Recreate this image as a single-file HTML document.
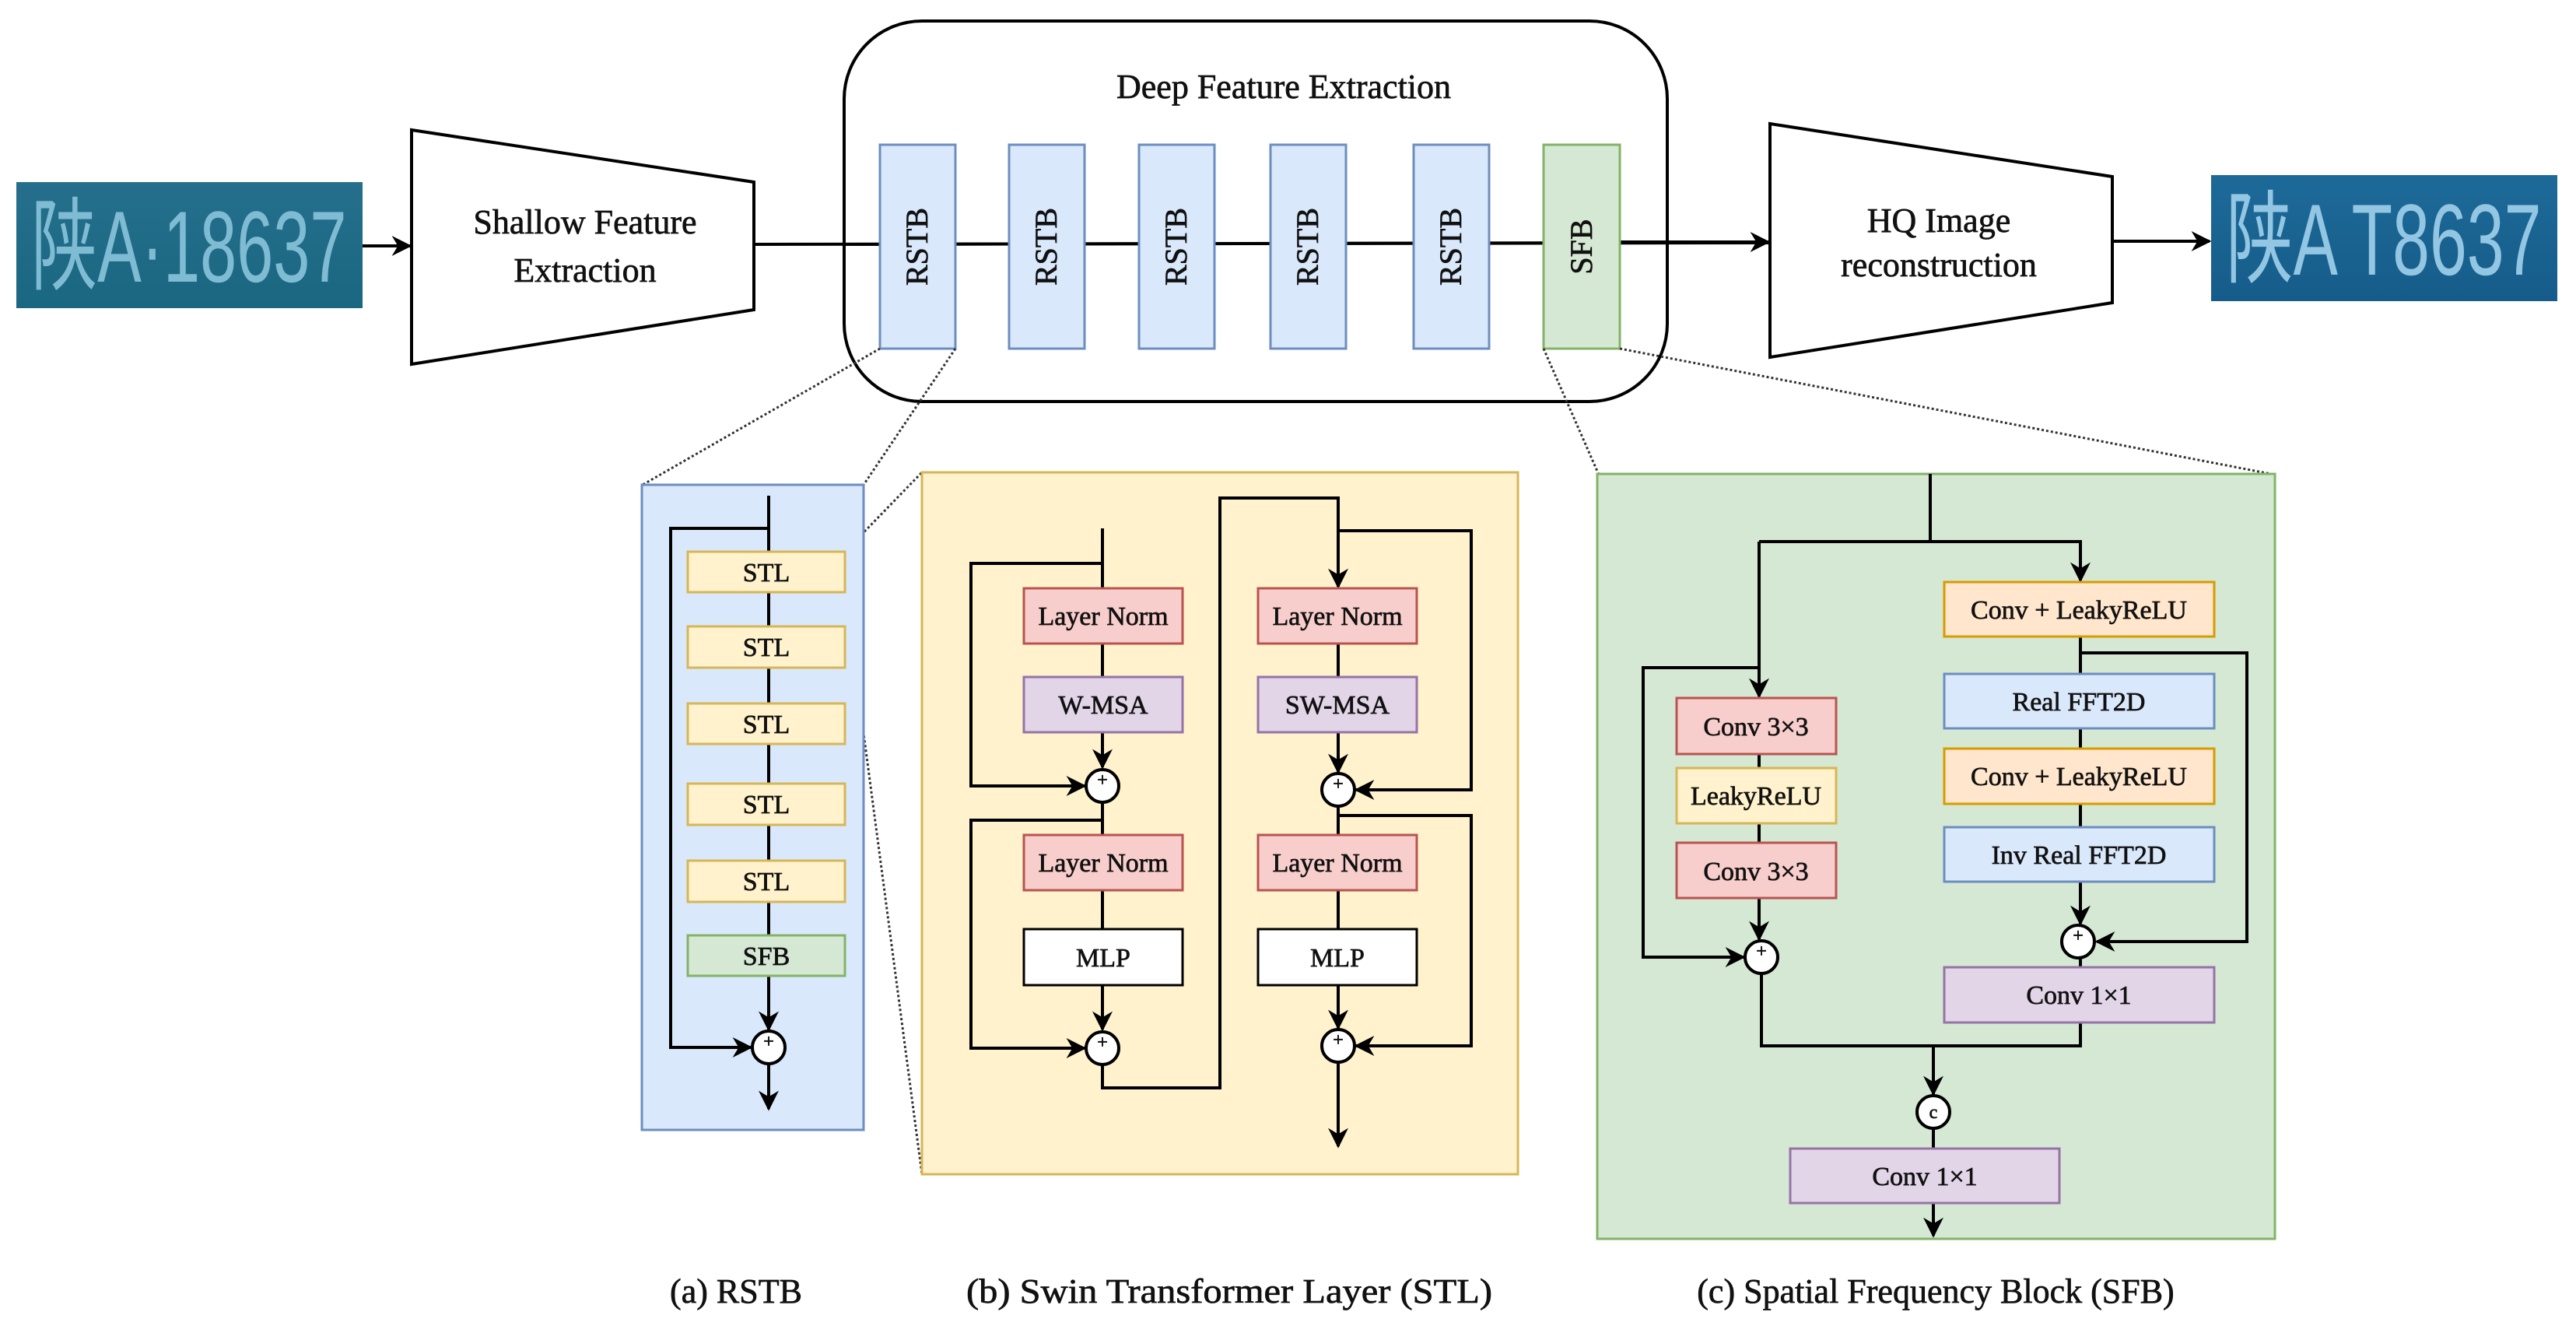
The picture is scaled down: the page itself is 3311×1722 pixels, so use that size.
<!DOCTYPE html>
<html><head><meta charset="utf-8"><style>
html,body{margin:0;padding:0;background:#fff;}
svg{display:block;}
text{font-family:"Liberation Serif","Noto Serif CJK SC",serif;fill:#111;stroke:#111;stroke-width:0.7;}
</style></head><body>
<svg width="3311" height="1722" viewBox="0 0 3311 1722" xmlns="http://www.w3.org/2000/svg">
<defs>
<marker id="b" viewBox="0 0 10 10" refX="9" refY="5" markerWidth="26" markerHeight="26" markerUnits="userSpaceOnUse" orient="auto"><path d="M0,0 L10,5 L0,10 L3,5 z" fill="#000"/></marker>
<linearGradient id="p1" x1="0" y1="0" x2="0" y2="1"><stop offset="0" stop-color="#256f8c"/><stop offset="1" stop-color="#1a6781"/></linearGradient>
<linearGradient id="p2" x1="0" y1="0" x2="0" y2="1"><stop offset="0" stop-color="#1d6a98"/><stop offset="1" stop-color="#165c8a"/></linearGradient>
</defs>

<rect x="21" y="234" width="445" height="162" fill="url(#p1)"/>
<text x="243" y="362" font-size="130" text-anchor="middle" textLength="405" lengthAdjust="spacingAndGlyphs" style="font-family:'Liberation Sans','Noto Sans CJK SC',sans-serif;fill:#7fbcd4;stroke:none">陕A·18637</text>
<rect x="2842" y="225" width="445" height="162" fill="url(#p2)"/>
<text x="3064" y="353" font-size="130" text-anchor="middle" textLength="405" lengthAdjust="spacingAndGlyphs" style="font-family:'Liberation Sans','Noto Sans CJK SC',sans-serif;fill:#92c6e2;stroke:none">陕A T8637</text>

<g stroke="#000" stroke-width="4" fill="none">
<line x1="466" y1="316" x2="527" y2="316" marker-end="url(#b)"/>
<line x1="969" y1="314" x2="2273" y2="312" />
<line x1="2082" y1="311" x2="2273" y2="311" marker-end="url(#b)"/>
<line x1="2715" y1="310" x2="2840" y2="310" marker-end="url(#b)"/>
</g>

<polygon points="529,167 969,234 969,398 529,468" fill="#fff" stroke="#000" stroke-width="4"/>
<text x="752" y="300" font-size="44" text-anchor="middle">Shallow Feature</text>
<text x="752" y="362" font-size="44" text-anchor="middle">Extraction</text>
<polygon points="2275,159 2715,227 2715,389 2275,459" fill="#fff" stroke="#000" stroke-width="4"/>
<text x="2492" y="298" font-size="44" text-anchor="middle">HQ Image</text>
<text x="2492" y="355" font-size="44" text-anchor="middle">reconstruction</text>

<rect x="1085" y="27" width="1058" height="489" rx="100" ry="100" fill="none" stroke="#000" stroke-width="4"/>
<text x="1650" y="126" font-size="44" text-anchor="middle">Deep Feature Extraction</text>
<g stroke="#000" stroke-width="4"><line x1="1085" y1="314" x2="2082" y2="312"/></g>
<g stroke="#6c8ebf" stroke-width="3" fill="#dae8fc">
<rect x="1131" y="186" width="97" height="262"/>
<rect x="1297" y="186" width="97" height="262"/>
<rect x="1464" y="186" width="97" height="262"/>
<rect x="1633" y="186" width="97" height="262"/>
<rect x="1817" y="186" width="97" height="262"/>
</g>
<rect x="1984" y="186" width="98" height="262" fill="#d5e8d4" stroke="#82b366" stroke-width="3"/>
<g font-size="40" text-anchor="middle">
<text transform="translate(1192,317) rotate(-90)">RSTB</text>
<text transform="translate(1358,317) rotate(-90)">RSTB</text>
<text transform="translate(1525,317) rotate(-90)">RSTB</text>
<text transform="translate(1694,317) rotate(-90)">RSTB</text>
<text transform="translate(1878,317) rotate(-90)">RSTB</text>
<text transform="translate(2046,317) rotate(-90)">SFB</text>
</g>

<g stroke="#333" stroke-width="3" stroke-dasharray="3,3" fill="none">
<line x1="1131" y1="448" x2="826" y2="623"/>
<line x1="1228" y1="448" x2="1110" y2="623"/>
<line x1="1984" y1="448" x2="2055" y2="610"/>
<line x1="2082" y1="448" x2="2924" y2="610"/>
<line x1="1086" y1="709" x2="1185" y2="607"/>
<line x1="1086" y1="761" x2="1185" y2="1509"/>
</g>

<rect x="825" y="623" width="285" height="829" fill="#dae8fc" stroke="#6c8ebf" stroke-width="3"/>
<g stroke="#000" stroke-width="4" fill="none">
<line x1="988" y1="637" x2="988" y2="1323" marker-end="url(#b)"/>
<polyline points="988,679 862,679 862,1346 965,1346" marker-end="url(#b)"/>
<line x1="988" y1="1367" x2="988" y2="1425" marker-end="url(#b)"/>
</g>
<g fill="#fff2cc" stroke="#d6b656" stroke-width="3">
<rect x="884" y="709" width="202" height="52"/>
<rect x="884" y="805" width="202" height="53"/>
<rect x="884" y="904" width="202" height="52"/>
<rect x="884" y="1007" width="202" height="53"/>
<rect x="884" y="1106" width="202" height="53"/>
</g>
<rect x="884" y="1202" width="202" height="52" fill="#d5e8d4" stroke="#82b366" stroke-width="3"/>
<g font-size="34" text-anchor="middle">
<text x="985" y="747">STL</text><text x="985" y="843">STL</text><text x="985" y="942">STL</text>
<text x="985" y="1045">STL</text><text x="985" y="1144">STL</text><text x="985" y="1240">SFB</text>
</g>
<circle cx="988" cy="1346" r="21" fill="#fff" stroke="#000" stroke-width="4"/>
<text x="988" y="1346" font-size="24" text-anchor="middle">+</text>

<rect x="1185" y="607" width="766" height="902" fill="#fff2cc" stroke="#d6b656" stroke-width="3"/>
<g stroke="#000" stroke-width="4" fill="none">
<line x1="1417" y1="679" x2="1417" y2="986" marker-end="url(#b)"/>
<polyline points="1417,724 1248,724 1248,1010 1394,1010" marker-end="url(#b)"/>
<line x1="1417" y1="1031" x2="1417" y2="1323" marker-end="url(#b)"/>
<polyline points="1417,1054 1248,1054 1248,1347 1394,1347" marker-end="url(#b)"/>
<polyline points="1417,1368 1417,1398 1568,1398 1568,640 1720,640 1720,754" marker-end="url(#b)"/>
<line x1="1720" y1="827" x2="1720" y2="992" marker-end="url(#b)"/>
<polyline points="1720,682 1891,682 1891,1015 1743,1015" marker-end="url(#b)"/>
<line x1="1720" y1="1036" x2="1720" y2="1321" marker-end="url(#b)"/>
<polyline points="1720,1048 1891,1048 1891,1344 1743,1344" marker-end="url(#b)"/>
<line x1="1720" y1="1365" x2="1720" y2="1473" marker-end="url(#b)"/>
</g>
<g stroke-width="3">
<rect x="1316" y="756" width="204" height="71" fill="#f8cecc" stroke="#b85450"/>
<rect x="1316" y="870" width="204" height="71" fill="#e1d5e7" stroke="#9673a6"/>
<rect x="1316" y="1073" width="204" height="71" fill="#f8cecc" stroke="#b85450"/>
<rect x="1316" y="1194" width="204" height="72" fill="#fff" stroke="#000"/>
<rect x="1617" y="756" width="204" height="71" fill="#f8cecc" stroke="#b85450"/>
<rect x="1617" y="870" width="204" height="71" fill="#e1d5e7" stroke="#9673a6"/>
<rect x="1617" y="1073" width="204" height="71" fill="#f8cecc" stroke="#b85450"/>
<rect x="1617" y="1194" width="204" height="72" fill="#fff" stroke="#000"/>
</g>
<g font-size="34" text-anchor="middle">
<text x="1418" y="803">Layer Norm</text><text x="1418" y="917">W-MSA</text>
<text x="1418" y="1120">Layer Norm</text><text x="1418" y="1242">MLP</text>
<text x="1719" y="803">Layer Norm</text><text x="1719" y="917">SW-MSA</text>
<text x="1719" y="1120">Layer Norm</text><text x="1719" y="1242">MLP</text>
</g>
<g fill="#fff" stroke="#000" stroke-width="4">
<circle cx="1417" cy="1010" r="21"/><circle cx="1417" cy="1347" r="21"/>
<circle cx="1720" cy="1015" r="21"/><circle cx="1720" cy="1344" r="21"/>
</g>
<g font-size="24" text-anchor="middle">
<text x="1417" y="1010">+</text><text x="1417" y="1347">+</text><text x="1720" y="1015">+</text><text x="1720" y="1344">+</text>
</g>

<rect x="2053" y="609" width="871" height="983" fill="#d5e8d4" stroke="#82b366" stroke-width="3"/>
<g stroke="#000" stroke-width="4" fill="none">
<polyline points="2481,609 2481,696"/>
<polyline points="2261,696 2674,696 2674,746" marker-end="url(#b)"/>
<polyline points="2261,696 2261,895" marker-end="url(#b)"/>
<line x1="2674" y1="818" x2="2674" y2="1187" marker-end="url(#b)"/>
<polyline points="2674,839 2888,839 2888,1210 2695,1210" marker-end="url(#b)"/>
<line x1="2674" y1="1231" x2="2674" y2="1243"/>
<line x1="2261" y1="969" x2="2261" y2="1207" marker-end="url(#b)"/>
<polyline points="2261,858 2112,858 2112,1230 2241,1230" marker-end="url(#b)"/>
<polyline points="2264,1251 2264,1344 2674,1344 2674,1314"/>
<line x1="2485" y1="1344" x2="2485" y2="1406" marker-end="url(#b)"/>
<line x1="2485" y1="1450" x2="2485" y2="1476"/>
<line x1="2485" y1="1546" x2="2485" y2="1588" marker-end="url(#b)"/>
</g>
<g stroke-width="3">
<rect x="2499" y="748" width="347" height="70" fill="#ffe6cc" stroke="#d79b00"/>
<rect x="2499" y="866" width="347" height="70" fill="#dae8fc" stroke="#6c8ebf"/>
<rect x="2499" y="962" width="347" height="71" fill="#ffe6cc" stroke="#d79b00"/>
<rect x="2499" y="1063" width="347" height="70" fill="#dae8fc" stroke="#6c8ebf"/>
<rect x="2499" y="1243" width="347" height="71" fill="#e1d5e7" stroke="#9673a6"/>
<rect x="2155" y="897" width="205" height="72" fill="#f8cecc" stroke="#b85450"/>
<rect x="2155" y="987" width="205" height="71" fill="#fff2cc" stroke="#d6b656"/>
<rect x="2155" y="1083" width="205" height="71" fill="#f8cecc" stroke="#b85450"/>
<rect x="2301" y="1476" width="346" height="70" fill="#e1d5e7" stroke="#9673a6"/>
</g>
<g font-size="34" text-anchor="middle">
<text x="2672" y="795">Conv + LeakyReLU</text>
<text x="2672" y="913">Real FFT2D</text>
<text x="2672" y="1009">Conv + LeakyReLU</text>
<text x="2672" y="1110">Inv Real FFT2D</text>
<text x="2672" y="1290">Conv 1×1</text>
<text x="2257" y="945">Conv 3×3</text>
<text x="2257" y="1034">LeakyReLU</text>
<text x="2257" y="1131">Conv 3×3</text>
<text x="2474" y="1523">Conv 1×1</text>
</g>
<g fill="#fff" stroke="#000" stroke-width="4">
<circle cx="2671" cy="1210" r="21"/><circle cx="2264" cy="1230" r="21"/><circle cx="2485" cy="1429" r="21"/>
</g>
<g font-size="24" text-anchor="middle">
<text x="2671" y="1210">+</text><text x="2264" y="1230">+</text><text x="2485" y="1437">c</text>
</g>

<g font-size="44" text-anchor="middle">
<text x="946" y="1674">(a) RSTB</text>
<text x="1580" y="1674" textLength="676" lengthAdjust="spacingAndGlyphs">(b) Swin Transformer Layer (STL)</text>
<text x="2488" y="1674">(c) Spatial Frequency Block (SFB)</text>
</g>
</svg>
</body></html>
